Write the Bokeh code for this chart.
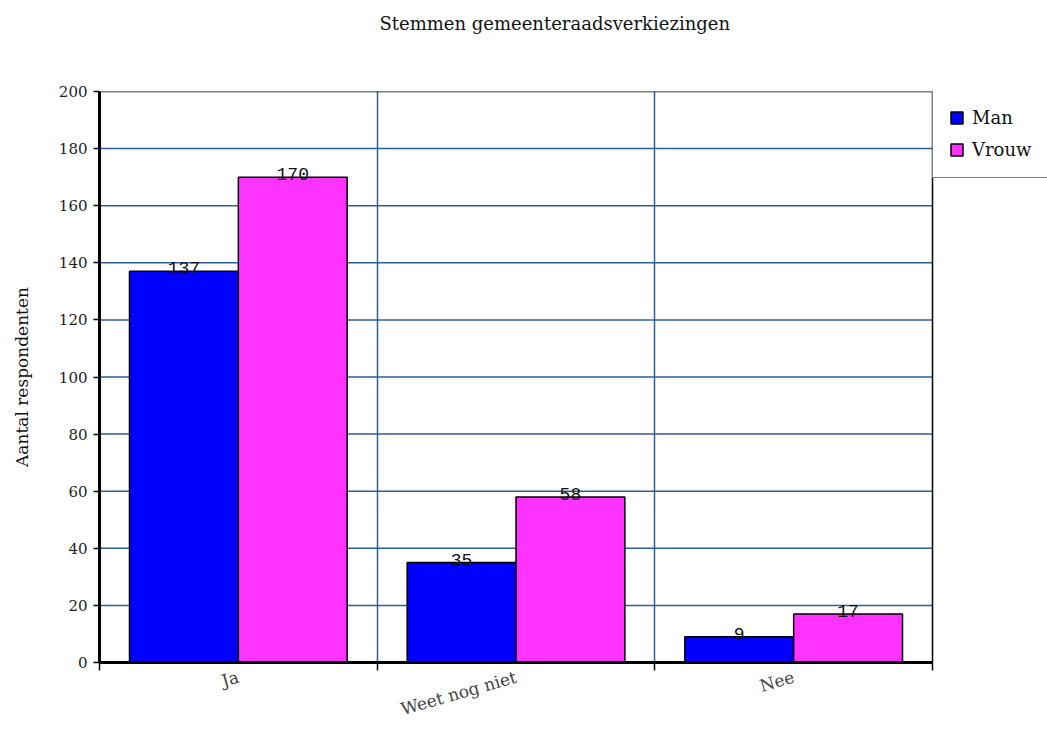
from bokeh.plotting import figure
from bokeh.models import (Range1d, FixedTicker, LinearAxis, Legend, LegendItem,
                          ColumnDataSource, Grid, Span, Title)
from bokeh.core.properties import value
from bokeh.transform import dodge
from bokeh.embed import file_html
from bokeh.resources import INLINE

# Data
chart_title = "Stemmen gemeenteraadsverkiezingen"
y_label = "Aantal respondenten"
categories = ["Ja", "Weet nog niet", "Nee"]
series_names = ["Man", "Vrouw"]
man = [137, 35, 9]
vrouw = [170, 58, 17]
y_ticks = [0, 20, 40, 60, 80, 100, 120, 140, 160, 180, 200]

# category centres on a numeric axis so that ticks/grid can sit on boundaries
n = len(categories)
pos = [i + 0.5 for i in range(n)]
bounds = list(range(n + 1))

src = ColumnDataSource(dict(
    pos=pos, man=man, vrouw=vrouw,
    man_txt=[str(v) for v in man], vrouw_txt=[str(v) for v in vrouw],
))
grid_src = ColumnDataSource(dict(y=y_ticks[1:-1], x0=[0] * (len(y_ticks) - 2),
                                 x1=[n] * (len(y_ticks) - 2)))

SERIF = "DejaVu Serif"
GRID = "#2F5F8F"
BAR_W = 0.392
# the frame runs on past the last category to leave room for the legend
PLOT_PX, FRAME_PX, FRAME_H = 833, 948, 572

p = figure(width=1047, height=731,
           x_range=Range1d(0, n * FRAME_PX / PLOT_PX), y_range=Range1d(y_ticks[0], y_ticks[-1]),
           x_axis_type=None, output_backend="svg", toolbar_location=None,
           min_border_left=99, min_border_right=0, min_border_top=91, min_border_bottom=68)
p.background_fill_color = "white"
p.border_fill_color = "white"
p.outline_line_color = None
p.xgrid.visible = False
p.ygrid.visible = False
p.title.text = ""

# title, kept clear of the frame by an empty spacer row
p.add_layout(Title(text=" ", text_font_size="10px", standoff=40), "above")
p.add_layout(Title(text=chart_title, align="left", offset=280, standoff=10,
                   text_font=SERIF, text_font_size="18px", text_font_style="normal",
                   text_color="#111111"), "above")

# y axis
yax = p.yaxis[0]
yax.ticker = FixedTicker(ticks=y_ticks)
yax.axis_line_color = "black"
yax.axis_line_width = 3
yax.major_tick_out = 6
yax.major_tick_in = 0
yax.major_tick_line_width = 1.5
yax.minor_tick_line_color = None
yax.major_label_text_font = SERIF
yax.major_label_text_font_size = "15px"
yax.major_label_text_color = "#222222"
yax.major_label_standoff = 6
yax.axis_label = y_label
yax.axis_label_text_font = SERIF
yax.axis_label_text_font_size = "17px"
yax.axis_label_text_font_style = "normal"
yax.axis_label_text_color = "#111111"
yax.axis_label_standoff = 24

# x axis: labels at category centres, tick marks at the boundaries
xax = LinearAxis(
    ticker=FixedTicker(ticks=pos, minor_ticks=bounds),
    major_label_overrides={x: c for x, c in zip(pos, categories)},
    bounds=(0, n),
)
xax.axis_line_color = "black"
xax.axis_line_width = 3
xax.major_tick_line_color = None
xax.major_tick_out = 0
xax.major_tick_in = 0
xax.minor_tick_out = 8
xax.minor_tick_in = 0
xax.minor_tick_line_color = "black"
xax.minor_tick_line_width = 1.5
xax.major_label_orientation = 0.28
xax.major_label_text_font = SERIF
xax.major_label_text_font_size = "17px"
xax.major_label_text_color = "#444444"
xax.major_label_standoff = 6
p.add_layout(xax, "below")

# grid: horizontal lines across the category area, vertical lines between categories
p.segment(x0="x0", x1="x1", y0="y", y1="y", source=grid_src,
          line_color=GRID, line_width=1.5, level="underlay")
p.add_layout(Grid(dimension=0, ticker=FixedTicker(ticks=bounds[1:-1]),
                  grid_line_color=GRID, grid_line_width=1.5))

# frame edges: top runs the full width, right edge closes the category area
p.add_layout(Span(location=y_ticks[-1], dimension="width", line_color="black", line_width=1.5))
p.add_layout(Span(location=n, dimension="height", line_color="black", line_width=1.5))

# bars
r_man = p.vbar(x=dodge("pos", -BAR_W / 2, range=p.x_range), top="man", width=BAR_W,
               source=src, fill_color="#0000FF", line_color="black", line_width=1.5)
r_vrouw = p.vbar(x=dodge("pos", BAR_W / 2, range=p.x_range), top="vrouw", width=BAR_W,
                 source=src, fill_color="#FF33FF", line_color="black", line_width=1.5)

# value labels
for col, off in (("man", -BAR_W / 2), ("vrouw", BAR_W / 2)):
    p.text(x=dodge("pos", off, range=p.x_range), y=col, text=col + "_txt", source=src,
           text_align="center", text_baseline="bottom", y_offset=3,
           text_font=value("Liberation Mono"), text_font_size="18px", text_color="#111111")

# legend box hangs off the top right corner of the category area
legend = Legend(
    items=[LegendItem(label=series_names[0], renderers=[r_man]),
           LegendItem(label=series_names[1], renderers=[r_vrouw])],
    location=(PLOT_PX, FRAME_H - 88), orientation="vertical", margin=0, padding=16, spacing=8,
    glyph_width=15, glyph_height=15, label_height=24, label_width=80, label_standoff=8,
    border_line_color="black", border_line_width=1.5, background_fill_alpha=1,
    label_text_font=SERIF, label_text_font_size="18px", label_text_color="#111111",
)
p.add_layout(legend, "center")

open("out.html", "w").write(file_html(p, INLINE))
